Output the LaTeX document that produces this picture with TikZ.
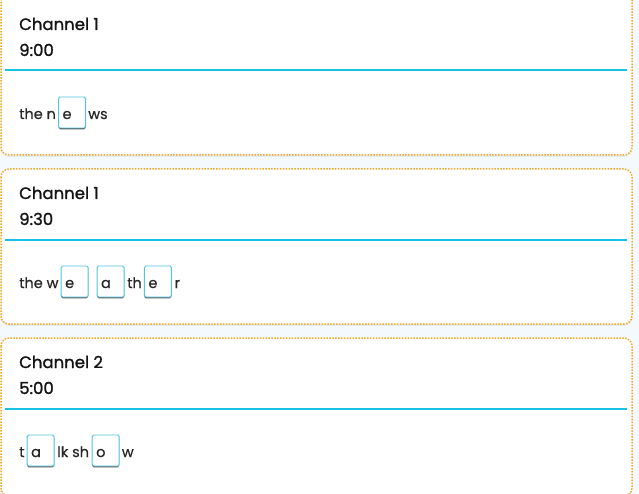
\documentclass[tikz,border=0pt]{standalone}
\usepackage{fontspec}
\setmainfont{Poppins}
\newfontfamily\titlefont{Poppins}[FakeBold=1.3]
\newfontfamily\bodyfont{Poppins}[FakeBold=0.5]
\usetikzlibrary{shadows}
\definecolor{cardline}{RGB}{246,168,40}
\definecolor{divider}{RGB}{24,194,228}
\definecolor{boxline}{RGB}{80,198,226}
\definecolor{bgc}{RGB}{243,249,253}
\definecolor{ink}{RGB}{20,20,20}
\tikzset{
  card/.style={draw=cardline, fill=white, line width=1.5pt, dash pattern=on 1.5pt off 1.4pt, rounded corners=8pt,
    drop shadow={shadow xshift=0pt, shadow yshift=-2pt, fill=black, opacity=0.05}},
  title/.style={anchor=base west, inner sep=0pt, font=\titlefont\fontsize{16.5}{18}\selectfont, text=ink},
  word/.style={anchor=base west, inner sep=0pt, font=\bodyfont\fontsize{14.5}{16}\selectfont, text=ink!92},
  gapbox/.style={anchor=base west, draw=boxline, line width=0.9pt, rounded corners=1.5pt, fill=white,
    text width=19pt, align=left, inner xsep=4pt, inner ysep=0pt, minimum height=31pt,
    text height=16pt, text depth=3pt, font=\bodyfont\fontsize{14.5}{16}\selectfont, text=ink!92,
    drop shadow={shadow xshift=0pt, shadow yshift=-1.3pt, fill=black!65, opacity=1}},
  rule/.style={draw=divider, line width=2pt}
}
\begin{document}
\begin{tikzpicture}[x=1pt, y=-1pt]
\clip (0,0) rectangle (639,494);
\fill[bgc] (0,0) rectangle (639,494);
% cards
\draw[card] (1,-12) rectangle (632,155);
\draw[card] (1,169) rectangle (632,324);
\draw[card] (1,338) rectangle (632,496);

% card 1
\node[title] (c1title) at (19,30) {Channel 1};
\node[title] (c1time) at (19,56) {9:00};
\coordinate (c1l) at (5,70.5);
\coordinate (c1r) at (627,70.5);
\draw[rule] (c1l) -- (c1r);
\node[word] (c1a) at (19,119) {the n};
\node[gapbox] (c1b) at ([xshift=2pt]c1a.base east) {e};
\node[word] (c1c) at ([xshift=2pt]c1b.base east) {ws};

% card 2
\node[title] (c2title) at (19,199) {Channel 1};
\node[title] (c2time) at (19,225) {9:30};
\coordinate (c2l) at (5,239.5);
\coordinate (c2r) at (627,239.5);
\draw[rule] (c2l) -- (c2r);
\node[word] (c2a) at (19,288) {the w};
\node[gapbox] (c2b) at ([xshift=2pt]c2a.base east) {e};
\node[gapbox] (c2c) at ([xshift=8pt]c2b.base east) {a};
\node[word] (c2d) at ([xshift=2.5pt]c2c.base east) {th};
\node[gapbox] (c2e) at ([xshift=2pt]c2d.base east) {e};
\node[word] (c2f) at ([xshift=2.5pt]c2e.base east) {r};

% card 3
\node[title] (c3title) at (19,368) {Channel 2};
\node[title] (c3time) at (19,394) {5:00};
\coordinate (c3l) at (5,408.5);
\coordinate (c3r) at (627,408.5);
\draw[rule] (c3l) -- (c3r);
\node[word] (c3a) at (19,457) {t};
\node[gapbox] (c3b) at ([xshift=2pt]c3a.base east) {a};
\node[word] (c3c) at ([xshift=2.5pt]c3b.base east) {lk sh};
\node[gapbox] (c3d) at ([xshift=2.5pt]c3c.base east) {o};
\node[word] (c3e) at ([xshift=2pt]c3d.base east) {w};
\end{tikzpicture}
\end{document}
